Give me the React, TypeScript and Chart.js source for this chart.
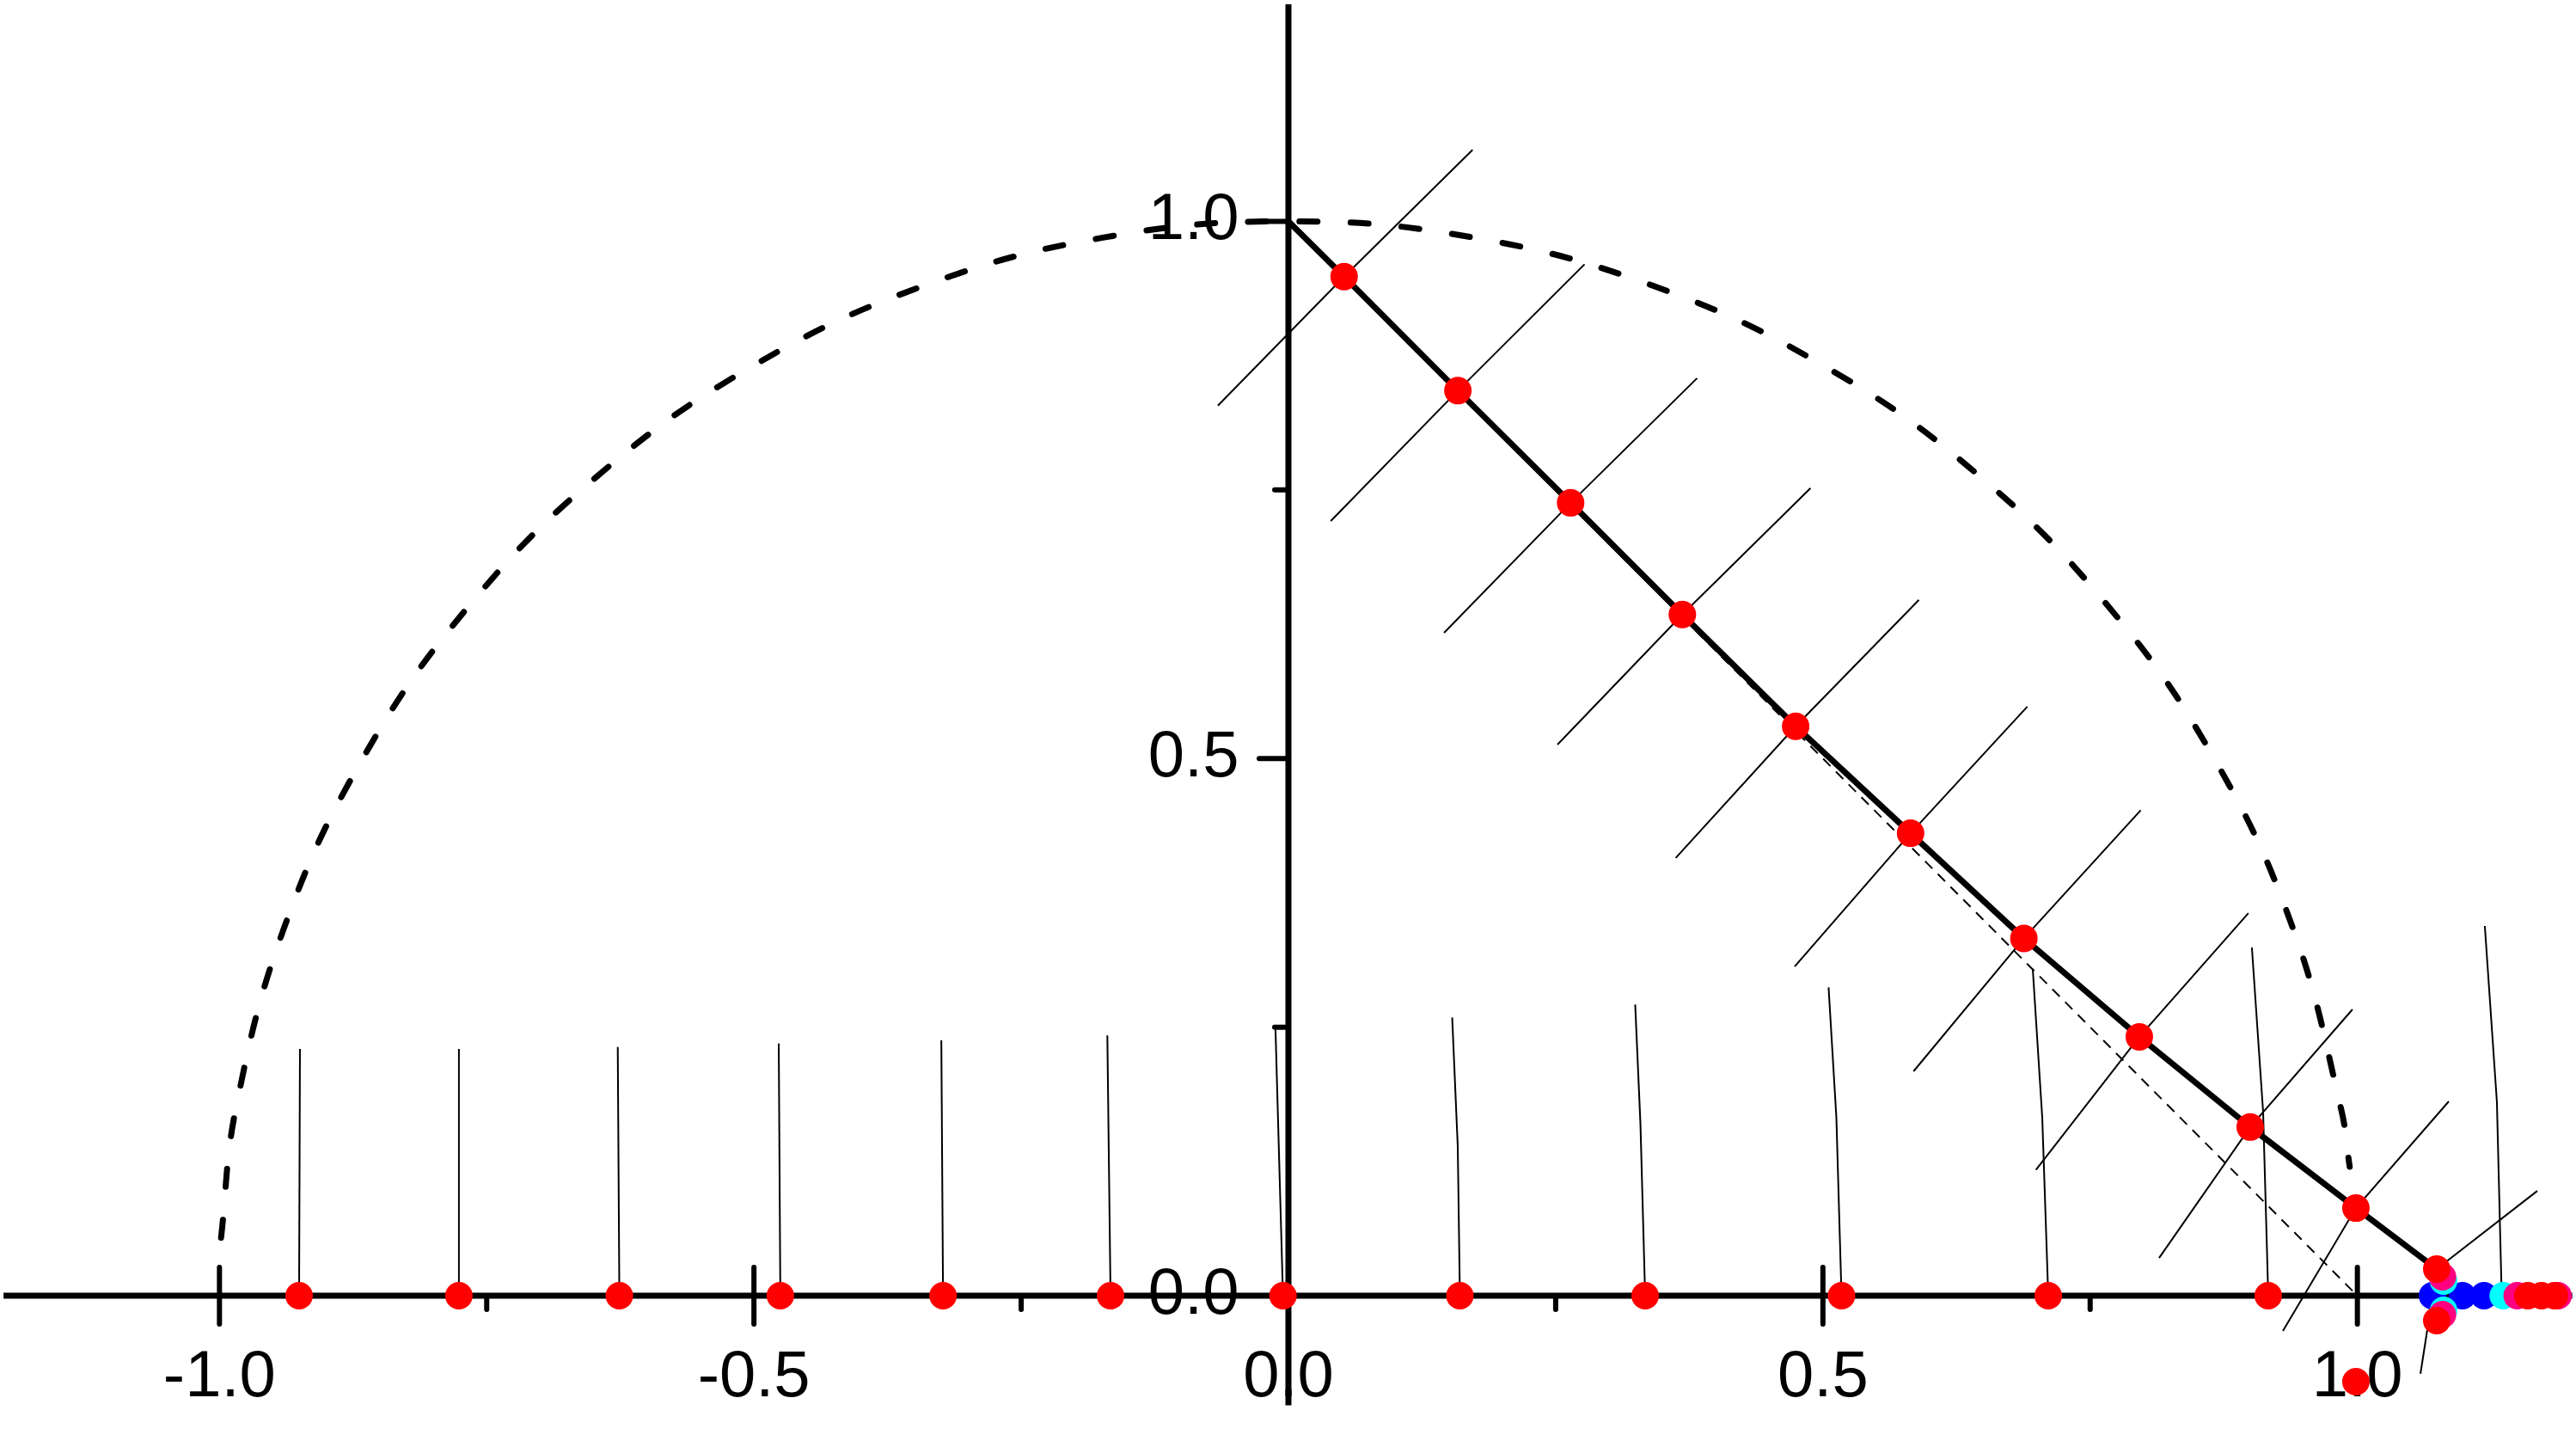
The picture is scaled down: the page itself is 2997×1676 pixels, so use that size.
import React, { useEffect, useRef } from "react";
import { Chart, registerables } from "chart.js";

Chart.register(...registerables);

// ---- view window (data units) ----
const X_MIN = -1.2053;
const X_MAX = 1.2045;
const Y_MIN = -0.1352;
const Y_MAX = 1.206;

// ---- axes through the origin ----
const AXIS_X_RANGE = [-1.202, 1.201];
const AXIS_Y_RANGE = [-0.102, 1.202];
const X_MAJOR_TICKS = [-1.0, -0.5, 0.0, 0.5, 1.0];
const X_MAJOR_LABELS = ["-1.0", "-0.5", "0.0", "0.5", "1.0"];
const X_MINOR_TICKS = [-0.75, -0.25, 0.25, 0.75];
const Y_MAJOR_TICKS = [0.0, 0.5, 1.0];
const Y_MAJOR_LABELS = ["0.0", "0.5", "1.0"];
const Y_MINOR_TICKS = [0.25, 0.75];

// ---- dashed unit semicircle ----
const CIRCLE_X = [-0.9985, -0.9848, -0.9397, -0.866, -0.766, -0.6428, -0.5, -0.342, -0.1736, 0, 0.1736, 0.342, 0.5, 0.6428, 0.766, 0.866, 0.9397, 0.9848, 0.9928];
const CIRCLE_Y = [0.054, 0.1736, 0.342, 0.5, 0.6428, 0.766, 0.866, 0.9397, 0.9848, 1, 0.9848, 0.9397, 0.866, 0.766, 0.6428, 0.5, 0.342, 0.1736, 0.12];

// ---- thin dashed straight line ----
const DIAG_X = [0, 1];
const DIAG_Y = [1, 0];

// ---- thick curve (first point has no marker) ----
const CURVE_X = [0, 0.0521, 0.1585, 0.264, 0.3685, 0.4745, 0.582, 0.688, 0.796, 0.8997, 0.9986, 1.0742];
const CURVE_Y = [1.0, 0.9485, 0.8424, 0.738, 0.634, 0.53, 0.4305, 0.3326, 0.241, 0.157, 0.0816, 0.0248];

// ---- thin kinked lines through each curve marker ----
const HATCH_LOW_X = [-0.066, 0.0396, 0.1456, 0.2517, 0.3623, 0.4736, 0.5848, 0.6993, 0.8145, 0.9303, 1.059];
const HATCH_LOW_Y = [0.8285, 0.721, 0.617, 0.513, 0.4075, 0.3065, 0.2089, 0.1172, 0.0352, -0.0328, -0.0726];
const HATCH_UP_X = [0.1723, 0.277, 0.3823, 0.4884, 0.5898, 0.6912, 0.7973, 0.898, 0.9954, 1.0855, 1.1683];
const HATCH_UP_Y = [1.0665, 0.96, 0.854, 0.7517, 0.6476, 0.5483, 0.4519, 0.356, 0.2665, 0.1809, 0.0976];

// ---- markers on the x axis ----
const AXIS_DOT_X = [-0.9255, -0.776, -0.6259, -0.4753, -0.3231, -0.1664, -0.0051, 0.1604, 0.3337, 0.5174, 0.7108, 0.9166];

// ---- near-vertical thin lines rising from the axis ----
const STALK_BASE_X = [-0.9255, -0.776, -0.6259, -0.4753, -0.3231, -0.1664, -0.0051, 0.1604, 0.3337, 0.5174, 0.7108, 0.9166, 1.135];
const STALK_MID_X = [null, null, null, null, null, null, null, 0.1584, 0.3293, 0.5126, 0.7052, 0.9118, 1.1305];
const STALK_MID_Y = [null, null, null, null, null, null, null, 0.139, 0.16, 0.1657, 0.1657, 0.1713, 0.1805];
const STALK_TOP_X = [-0.9247, -0.776, -0.6274, -0.4768, -0.3247, -0.1694, -0.0121, 0.1532, 0.3244, 0.5053, 0.6963, 0.9013, 1.1192];
const STALK_TOP_Y = [0.2297, 0.2297, 0.2316, 0.2347, 0.2378, 0.2423, 0.248, 0.259, 0.271, 0.287, 0.3043, 0.3241, 0.3441];

// ---- coloured cluster at the right end ----
const BLUE_X = [1.0702, 1.0983, 1.1184];
const BLUE_Y = [0, 0, 0];
const CYAN_X = [1.0806, 1.0806, 1.1364];
const CYAN_Y = [0.0136, -0.0136, 0];
const PINK_X = [1.0796, 1.0796, 1.1495, 1.1877];
const PINK_Y = [0.0176, -0.0176, 0, 0];
const RED_X = [1.0742, 1.1595, 1.1723, 1.1844, 0.9986];
const RED_Y = [-0.0232, 0, 0, 0, -0.08];

const pts = (xs: number[], ys: number[]) => xs.map((x, i) => ({ x, y: ys[i] }));

const originAxes = {
  id: "originAxes",
  beforeDatasetsDraw(chart: any) {
    const { ctx } = chart;
    const xs = chart.scales.x;
    const ys = chart.scales.y;
    const px = (v: number) => xs.getPixelForValue(v);
    const py = (v: number) => ys.getPixelForValue(v);
    const seg = (x1: number, y1: number, x2: number, y2: number) => {
      ctx.beginPath();
      ctx.moveTo(x1, y1);
      ctx.lineTo(x2, y2);
      ctx.stroke();
    };
    ctx.save();
    ctx.fillStyle = "#000";
    ctx.font = '76px "Liberation Sans", Arial, sans-serif';
    ctx.textBaseline = "alphabetic";
    ctx.textAlign = "center";
    X_MAJOR_TICKS.forEach((v, i) => ctx.fillText(X_MAJOR_LABELS[i], px(v), py(0) + 117));
    ctx.textAlign = "right";
    Y_MAJOR_TICKS.forEach((v, i) => ctx.fillText(Y_MAJOR_LABELS[i], px(0) - 57.5, py(v) + 20.5));

    ctx.strokeStyle = "#000";
    ctx.lineCap = "butt";
    ctx.lineWidth = 7;
    seg(px(AXIS_X_RANGE[0]), py(0), px(AXIS_X_RANGE[1]), py(0));
    seg(px(0), py(AXIS_Y_RANGE[0]), px(0), py(AXIS_Y_RANGE[1]));

    ctx.lineWidth = 6;
    ctx.lineCap = "round";
    X_MAJOR_TICKS.forEach((v) => seg(px(v), py(0) - 33, px(v), py(0) + 33));
    X_MINOR_TICKS.forEach((v) => seg(px(v), py(0), px(v), py(0) + 16));
    Y_MAJOR_TICKS.forEach((v) => seg(px(0) - 34, py(v), px(0), py(v)));
    Y_MINOR_TICKS.forEach((v) => seg(px(0) - 16, py(v), px(0), py(v)));
    ctx.restore();
  },
};

export default function App() {
  const ref = useRef<HTMLCanvasElement | null>(null);

  useEffect(() => {
    if (!ref.current) return;

    const thin = (data: any[]) => ({
      data,
      showLine: true,
      borderColor: "#000",
      borderWidth: 2,
      pointRadius: 0,
      tension: 0,
      fill: false,
    });
    const dots = (data: any[], color: string) => ({
      data,
      showLine: false,
      pointRadius: 16,
      pointBackgroundColor: color,
      pointBorderWidth: 0,
      pointBorderColor: color,
    });

    const layers: any[] = [];
    // stalks
    STALK_BASE_X.forEach((bx, i) => {
      const d: any[] = [{ x: bx, y: 0 }];
      if (STALK_MID_X[i] !== null) d.push({ x: STALK_MID_X[i], y: STALK_MID_Y[i] });
      d.push({ x: STALK_TOP_X[i], y: STALK_TOP_Y[i] });
      layers.push(thin(d));
    });
    // hatches through curve markers
    HATCH_LOW_X.forEach((lx, i) => {
      layers.push(
        thin([
          { x: lx, y: HATCH_LOW_Y[i] },
          { x: CURVE_X[i + 1], y: CURVE_Y[i + 1] },
          { x: HATCH_UP_X[i], y: HATCH_UP_Y[i] },
        ])
      );
    });
    // thin dashed diagonal
    layers.push({ ...thin(pts(DIAG_X, DIAG_Y)), borderDash: [12, 9] });
    // dashed circle
    layers.push({
      data: pts(CIRCLE_X, CIRCLE_Y),
      showLine: true,
      borderColor: "#000",
      borderWidth: 7,
      borderDash: [21, 38.5],
      borderCapStyle: "round",
      pointRadius: 0,
      tension: 0.4,
      fill: false,
    });
    // thick curve
    layers.push({
      data: pts(CURVE_X, CURVE_Y),
      showLine: true,
      borderColor: "#000",
      borderWidth: 7,
      borderJoinStyle: "round",
      pointRadius: 0,
      tension: 0,
      fill: false,
    });
    // markers
    layers.push(dots(AXIS_DOT_X.map((x) => ({ x, y: 0 })), "#ff0000"));
    layers.push(dots(pts(BLUE_X, BLUE_Y), "#0000ff"));
    layers.push(dots(pts(CYAN_X, CYAN_Y), "#00ffff"));
    layers.push(dots(pts(PINK_X, PINK_Y), "#ff0080"));
    layers.push(dots(pts(RED_X, RED_Y), "#ff0000"));
    layers.push(dots(pts(CURVE_X.slice(1), CURVE_Y.slice(1)), "#ff0000"));

    const datasets = layers.map((d, i) => ({ ...d, order: layers.length - i }));

    const chart = new Chart(ref.current, {
      type: "scatter",
      data: { datasets },
      options: {
        animation: false,
        responsive: true,
        maintainAspectRatio: false,
        events: [],
        layout: { padding: 0, autoPadding: false },
        plugins: { legend: { display: false }, tooltip: { enabled: false } },
        scales: {
          x: { type: "linear", display: false, min: X_MIN, max: X_MAX },
          y: { type: "linear", display: false, min: Y_MIN, max: Y_MAX },
        },
      },
      plugins: [originAxes],
    } as any);

    return () => chart.destroy();
  }, []);

  return (
    <div
      style={{
        position: "fixed",
        left: 0,
        top: 0,
        width: 2997,
        height: 1676,
        background: "#fff",
      }}
    >
      <canvas ref={ref} />
    </div>
  );
}
